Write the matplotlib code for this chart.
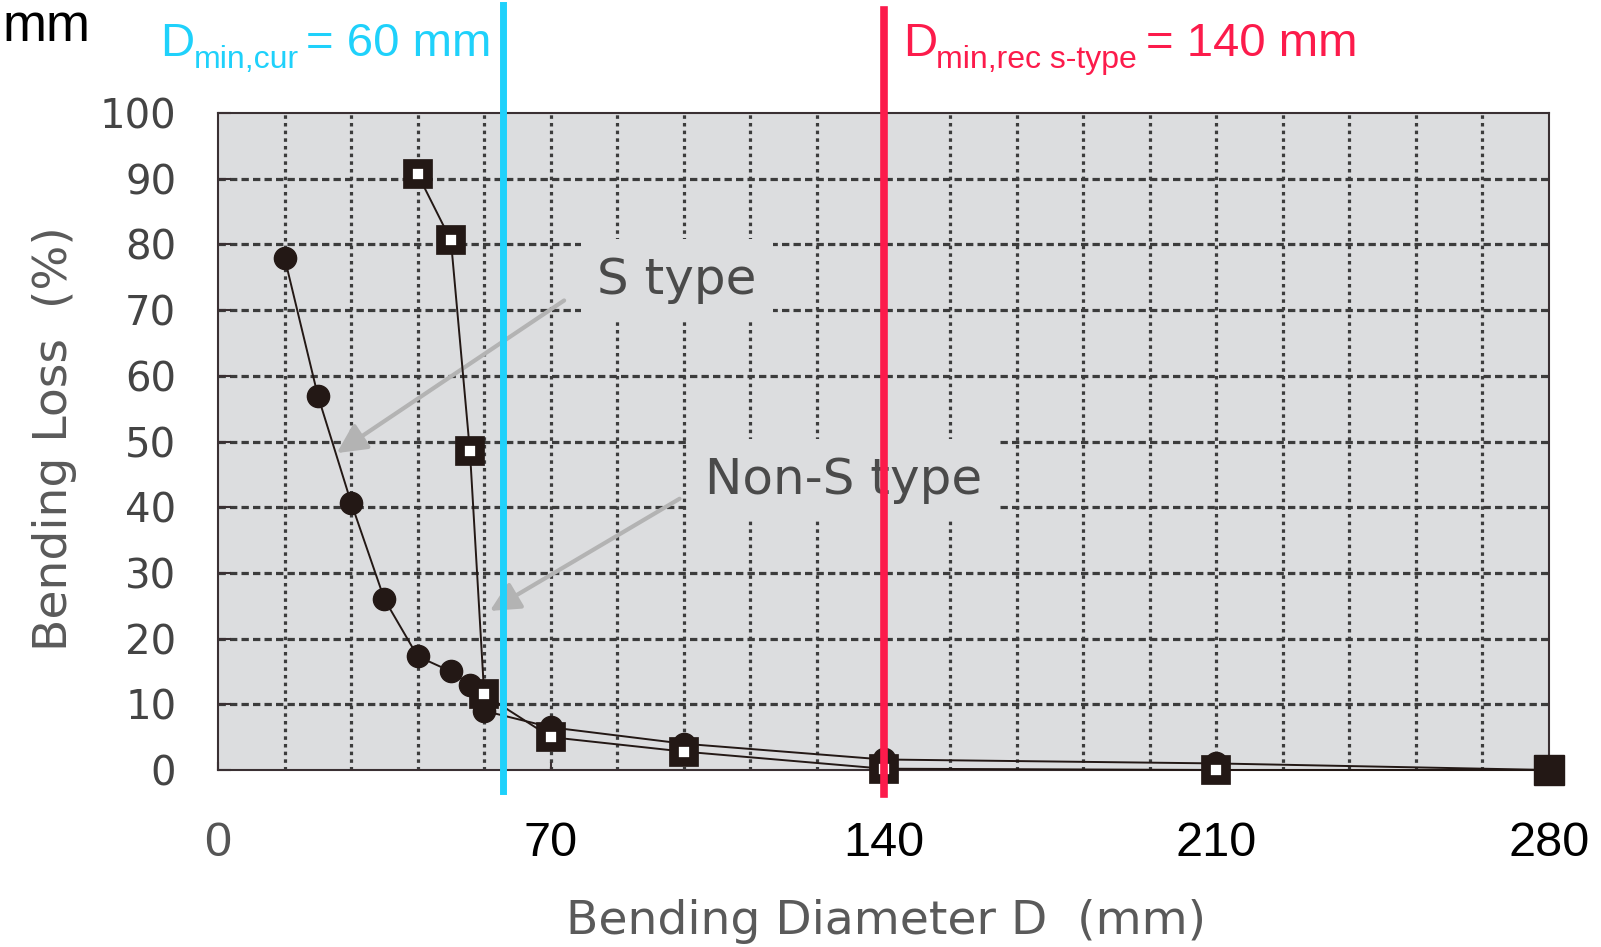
import numpy as np
import matplotlib
matplotlib.use("Agg")
import matplotlib.pyplot as plt

# data: bending loss (%) vs bending diameter (mm)
s_type_d = [14, 21, 28, 35, 42, 49, 53, 56, 70, 98, 140, 210, 280]
s_type_loss = [78, 57, 40.7, 26, 17.3, 15, 13, 9, 6.5, 4.0, 1.6, 1.0, 0]

non_s_d = [42, 49, 53, 56, 70, 98, 140, 210, 280]
non_s_loss = [90.7, 80.6, 48.5, 11.5, 5, 2.8, 0.2, 0, 0]

x_ticks = [0, 70, 140, 210, 280]
y_ticks = list(range(0, 101, 10))

d_min_cur = 60
d_min_rec = 140

W, H = 1601, 947
fig = plt.figure(figsize=(W / 100, H / 100), dpi=100)

# axes box in pixel terms
left, right, top, bottom = 218, 1549, 113, 770
ax = fig.add_axes([left / W, 1 - bottom / H, (right - left) / W, (bottom - top) / H])
ax.set_facecolor("#dcdddf")
ax.set_xlim(0, 280)
ax.set_ylim(0, 100)

# grid
for x in np.arange(14, 280, 14):
    ax.axvline(x, color="#3c3c3c", lw=2.3, ls=(0, (1.1, 1.3)), zorder=1)
for y in range(10, 100, 10):
    ax.axhline(y, color="#3c3c3c", lw=2.3, ls=(0, (2.3, 1.3)), zorder=1)

for sp in ax.spines.values():
    sp.set_color("#3a3033")
    sp.set_linewidth(1.5)

ax.set_xticks(x_ticks)
ax.set_yticks(y_ticks)
ax.set_yticklabels([str(v) for v in y_ticks], fontsize=29, color="#444444",
                   family="DejaVu Sans")
ax.set_xticklabels([str(v) for v in x_ticks], fontsize=35, family="Liberation Sans")
ax.get_xticklabels()[0].set_color("#555555")
ax.tick_params(axis="y", direction="in", length=9, width=1.5, pad=30, color="#3a3033")
ax.tick_params(axis="x", direction="in", length=6, width=1.5, pad=37, color="#3a3033")

ax.set_ylabel("Bending Loss  (%)", fontsize=34, color="#5a5a5a", family="DejaVu Sans")
ax.yaxis.set_label_coords(-0.106, 0.504)
ax.set_xlabel("Bending Diameter D  (mm)", fontsize=34, color="#5a5a5a", family="DejaVu Sans")
ax.xaxis.set_label_coords(0.502, -0.196)

# data
ax.plot(s_type_d, s_type_loss, "-o", color="#231815", lw=1.4, ms=16, zorder=3,
        clip_on=False)
ax.plot(non_s_d, non_s_loss, "-s", color="#231815", lw=1.4, ms=14, mfc="white",
        mec="#231815", mew=7, zorder=4, clip_on=False)
ax.plot(non_s_d[-1:], non_s_loss[-1:], "s", color="#231815", ms=21, zorder=4,
        clip_on=False)

# labels with arrows
arrow_col = "#b3b3b3"
ax.annotate("", xy=(24.5, 48), xytext=(73.3, 71.7),
            arrowprops=dict(arrowstyle="-|>", color=arrow_col, lw=3, mutation_scale=45),
            zorder=2.5)
ax.annotate("", xy=(56.7, 24), xytext=(97.6, 41.5),
            arrowprops=dict(arrowstyle="-|>", color=arrow_col, lw=3, mutation_scale=45),
            zorder=2.5)
box = dict(facecolor="#dcdddf", edgecolor="none", pad=12)
ax.text(96.5, 74.6, "S type", fontsize=36, color="#4a4a4a", ha="center", va="center",
        bbox=box, zorder=2.6)
ax.text(131.5, 44.2, "Non-S type", fontsize=36, color="#4a4a4a", ha="center",
        va="center", bbox=box, zorder=2.6)

# minimum diameter markers
cyan = "#1fd1fb"
red = "#fc1b4b"
ax.axvline(d_min_cur, ymin=-0.032, ymax=1.164, color=cyan, lw=5, zorder=6, clip_on=False)
ax.axvline(d_min_rec, ymin=-0.037, ymax=1.157, color=red, lw=5.5, zorder=6, clip_on=False)


def ftext(px, py, s, **kw):
    fig.text(px / W, 1 - py / H, s, va="baseline", family="Liberation Sans", **kw)


ftext(3, 41, "mm", fontsize=38, color="black")
ftext(160, 56, "D", fontsize=34, color=cyan)
ftext(194, 68, "min,cur", fontsize=23, color=cyan)
ftext(306, 56, "= %d mm" % d_min_cur, fontsize=34, color=cyan)
ftext(903, 56, "D", fontsize=34, color=red)
ftext(936, 68, "min,rec s-type", fontsize=23, color=red)
ftext(1146, 56, "= %d mm" % d_min_rec, fontsize=34, color=red)

fig.savefig("out.png", dpi=100)
